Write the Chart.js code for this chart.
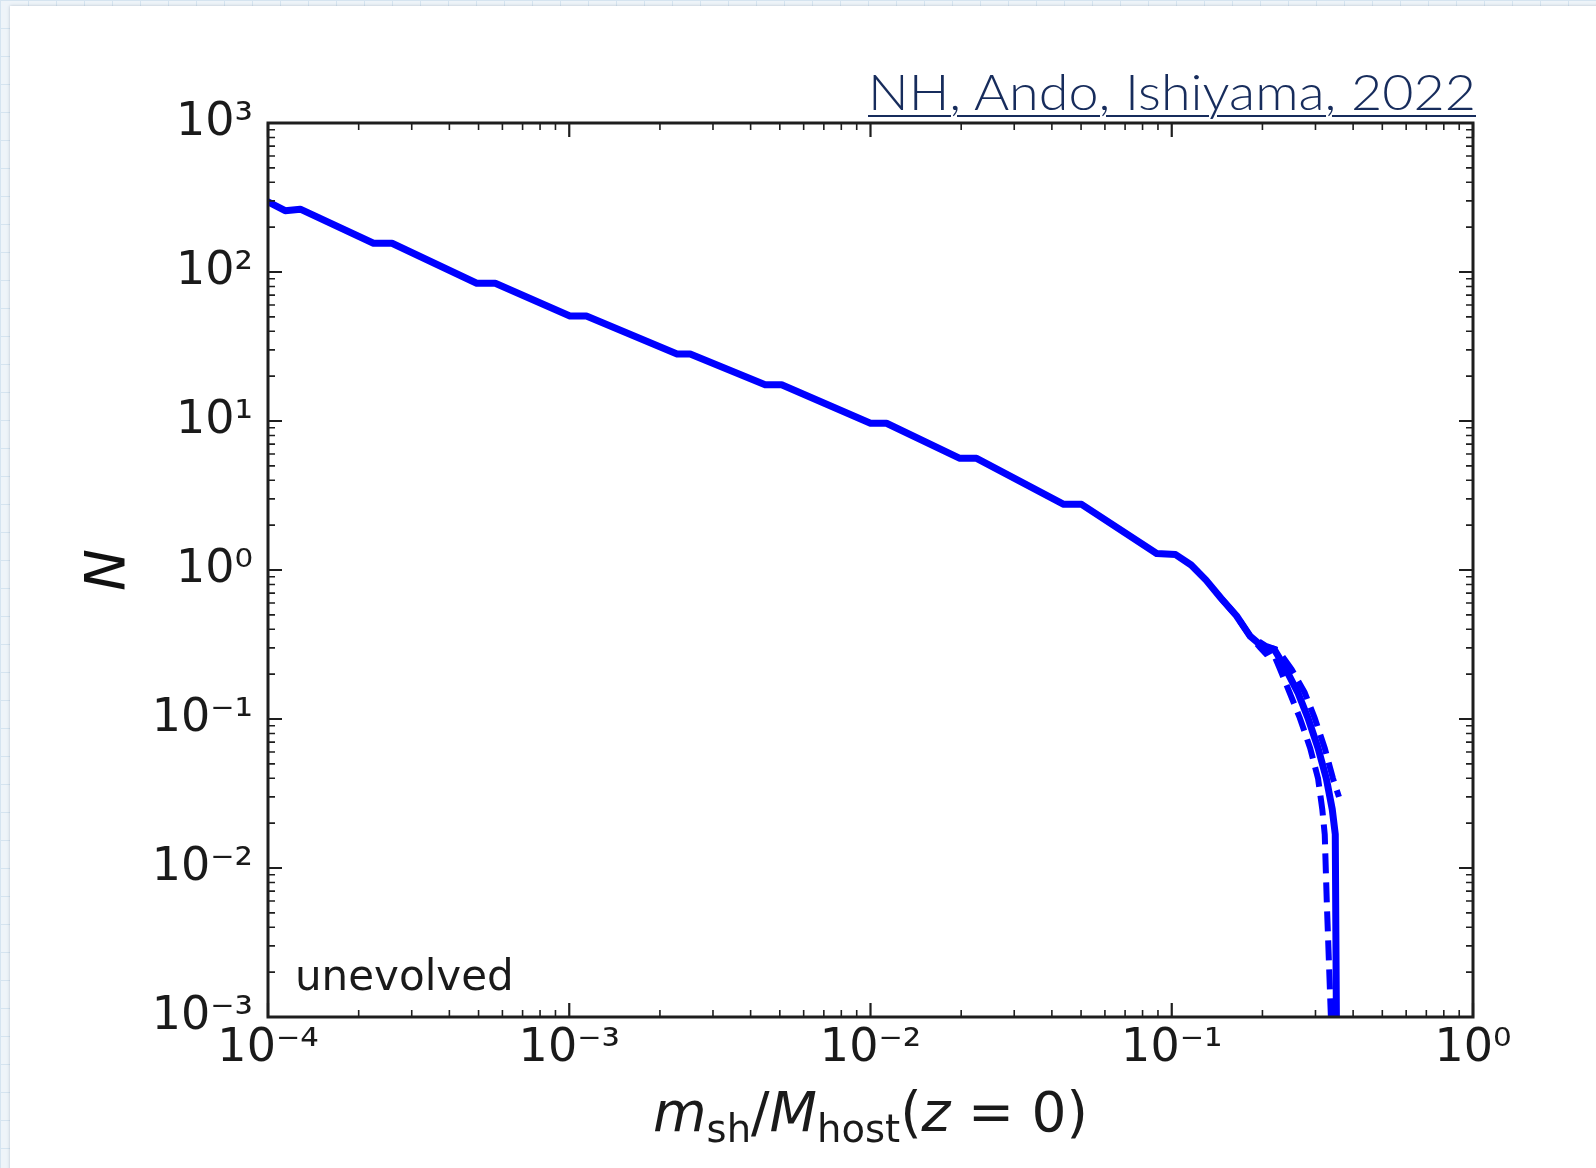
<!DOCTYPE html>
<html>
<head>
<meta charset="utf-8">
<title>Subhalo mass function</title>
<script src="https://cdn.jsdelivr.net/npm/chart.js@4.4.1/dist/chart.umd.min.js"></script>
<style>
  html, body { margin: 0; padding: 0; }
  body {
    width: 1596px; height: 1168px; overflow: hidden; position: relative;
    background-color: #eef4f9;
    background-image:
      linear-gradient(#d5e4f0 1px, transparent 1px),
      linear-gradient(90deg, #d5e4f0 1px, transparent 1px);
    background-size: 28px 28px;
  }
  #card {
    position: absolute; left: 10px; top: 6px; right: -20px; bottom: -20px;
    background: #fff; box-shadow: 0 0 3px rgba(110, 130, 150, 0.45);
  }
  #wrap { position: absolute; left: 0; top: 0; width: 1596px; height: 1168px; }
  #cite {
    position: absolute; left: 868px; top: 66px;
    font-family: Lato, "Open Sans", sans-serif; font-weight: 300;
    font-size: 50px; line-height: 1; white-space: nowrap;
    color: #172c5c; text-decoration: underline;
    text-decoration-thickness: 2px; text-underline-offset: 5px;
    transform-origin: 0 0;
  }
</style>
</head>
<body>
<div id="card"></div>
<div id="wrap"><canvas id="chartCanvas"></canvas></div>
<div id="cite">NH, Ando, Ishiyama, 2022</div>
<script>
// solid line: N(> m_sh/M_host), unevolved
const xSolid = [1e-4, 1.14e-4, 1.28e-4, 2.24e-4, 2.58e-4, 4.93e-4, 5.68e-4, 1.005e-3, 1.14e-3,
  2.28e-3, 2.52e-3, 4.47e-3, 5.07e-3, 1.0e-2, 1.13e-2, 1.98e-2, 2.25e-2, 4.38e-2, 5.02e-2,
  0.0891, 0.103, 0.116, 0.130, 0.146, 0.164, 0.182, 0.1995, 0.219, 0.237, 0.262, 0.283,
  0.306, 0.326, 0.341, 0.349, 0.352];
const nSolid = [296, 258, 264, 156, 156, 84, 84, 50.7, 50.7,
  28.2, 28.2, 17.5, 17.5, 9.66, 9.66, 5.62, 5.62, 2.76, 2.76,
  1.29, 1.27, 1.08, 0.855, 0.644, 0.493, 0.360, 0.307, 0.293, 0.224, 0.151, 0.102,
  0.0638, 0.0398, 0.0248, 0.0168, 0.001];

// dashed lines (only where they split from the solid one)
const xDashA = [0.146, 0.164, 0.182, 0.205, 0.225, 0.25, 0.276, 0.298, 0.322, 0.343, 0.359];
const nDashA = [0.644, 0.493, 0.36, 0.31, 0.29, 0.215, 0.151, 0.102, 0.0638, 0.0398, 0.030];
const xDashB = [0.146, 0.164, 0.182, 0.197, 0.205, 0.215, 0.228, 0.246, 0.266, 0.288, 0.306,
  0.316, 0.322, 0.327, 0.3375];
const nDashB = [0.644, 0.493, 0.36, 0.30, 0.275, 0.29, 0.22, 0.151, 0.102, 0.0638, 0.0398,
  0.0248, 0.0168, 0.006, 0.001];

// tick labels
const xTicks = [1e-4, 1e-3, 1e-2, 1e-1, 1];
const xTickLabels = ['10⁻⁴', '10⁻³', '10⁻²', '10⁻¹', '10⁰'];
const yTicks = [1e-3, 1e-2, 1e-1, 1, 10, 100, 1000];
const yTickLabels = ['10⁻³', '10⁻²', '10⁻¹', '10⁰', '10¹', '10²', '10³'];

const toPoints = (xs, ys) => xs.map((v, i) => ({ x: v, y: ys[i] }));

// inward ticks on all four sides + box, like matplotlib
const frameTicks = {
  id: 'frameTicks',
  afterDatasetsDraw(chart) {
    const { ctx, chartArea: a, scales: { x, y } } = chart;
    ctx.save();
    ctx.strokeStyle = '#1e1e1e';
    const minorOf = majors => {
      const out = [];
      for (let i = 0; i < majors.length - 1; i++)
        for (let k = 2; k <= 9; k++) out.push(majors[i] * k);
      return out;
    };
    const drawX = (vals, len, w) => {
      ctx.lineWidth = w;
      ctx.beginPath();
      vals.forEach(v => {
        const px = x.getPixelForValue(v);
        ctx.moveTo(px, a.bottom); ctx.lineTo(px, a.bottom - len);
        ctx.moveTo(px, a.top); ctx.lineTo(px, a.top + len);
      });
      ctx.stroke();
    };
    const drawY = (vals, len, w) => {
      ctx.lineWidth = w;
      ctx.beginPath();
      vals.forEach(v => {
        const py = y.getPixelForValue(v);
        ctx.moveTo(a.left, py); ctx.lineTo(a.left + len, py);
        ctx.moveTo(a.right, py); ctx.lineTo(a.right - len, py);
      });
      ctx.stroke();
    };
    drawX(minorOf(xTicks), 7, 1.6);
    drawY(minorOf(yTicks), 7, 1.6);
    drawX(xTicks, 14, 2.2);
    drawY(yTicks, 14, 2.2);
    ctx.lineWidth = 3;
    ctx.strokeRect(a.left, a.top, a.right - a.left, a.bottom - a.top);
    ctx.restore();
  },
  afterDraw(chart) {
    const { ctx, chartArea: a } = chart;
    ctx.save();
    ctx.fillStyle = '#1a1a1a';
    ctx.textBaseline = 'alphabetic';
    ctx.font = '42px "DejaVu Sans"';
    ctx.fillText('unevolved', a.left + 27, a.bottom - 27);

    // x axis title: m_sh / M_host (z = 0)
    const fs = 55;
    const parts = [
      ['m', 'italic', fs, 0], ['sh', 'normal', fs * 0.7, fs * 0.2],
      ['/', 'normal', fs, 0], ['M', 'italic', fs, 0], ['host', 'normal', fs * 0.7, fs * 0.2],
      ['(', 'normal', fs, 0], ['z', 'italic', fs, 0], [' = ', 'normal', fs, 0], ['0)', 'normal', fs, 0]
    ];
    let total = 0;
    parts.forEach(p => { ctx.font = p[1] + ' ' + p[2] + 'px "DejaVu Sans"'; total += ctx.measureText(p[0]).width; });
    let cx = (a.left + a.right) / 2 - total / 2;
    const base = 1131;
    parts.forEach(p => {
      ctx.font = p[1] + ' ' + p[2] + 'px "DejaVu Sans"';
      ctx.fillText(p[0], cx, base + p[3]);
      cx += ctx.measureText(p[0]).width;
    });
    ctx.restore();
  }
};

Chart.defaults.font.family = '"DejaVu Sans"';
Chart.defaults.color = '#1a1a1a';

const ctx = document.getElementById('chartCanvas').getContext('2d');
new Chart(ctx, {
  type: 'line',
  data: {
    datasets: [
      {
        label: 'solid',
        data: toPoints(xSolid, nSolid),
        borderColor: '#0000ff',
        borderWidth: 7,
        borderJoinStyle: 'round',
        borderCapStyle: 'round',
        pointRadius: 0,
        tension: 0
      },
      {
        label: 'dashed 1',
        data: toPoints(xDashA, nDashA),
        borderColor: '#0000ff',
        borderWidth: 6,
        borderDash: [20, 9],
        pointRadius: 0,
        tension: 0
      },
      {
        label: 'dashed 2',
        data: toPoints(xDashB, nDashB),
        borderColor: '#0000ff',
        borderWidth: 6,
        borderDash: [20, 9],
        pointRadius: 0,
        tension: 0
      }
    ]
  },
  options: {
    responsive: true,
    maintainAspectRatio: false,
    animation: false,
    layout: { padding: { top: 123, right: 123, left: 0, bottom: 0 } },
    scales: {
      x: {
        type: 'logarithmic',
        min: 1e-4,
        max: 1,
        afterFit: s => { s.height = 151; },
        afterBuildTicks: s => { s.ticks = xTicks.map(v => ({ value: v })); },
        grid: { display: false, drawTicks: false },
        border: { display: false },
        ticks: {
          autoSkip: false,
          maxRotation: 0,
          padding: 4,
          font: { size: 46 },
          color: '#1a1a1a',
          callback: v => xTickLabels[xTicks.indexOf(v)]
        }
      },
      y: {
        type: 'logarithmic',
        min: 1e-3,
        max: 1e3,
        afterFit: s => { s.width = 268; },
        afterBuildTicks: s => { s.ticks = yTicks.map(v => ({ value: v })); },
        grid: { display: false, drawTicks: false },
        border: { display: false },
        ticks: {
          autoSkip: false,
          padding: 15,
          font: { size: 46 },
          color: '#1a1a1a',
          callback: v => yTickLabels[yTicks.indexOf(v)]
        },
        title: {
          display: true,
          text: 'N',
          padding: { top: 76 },
          font: { size: 56, style: 'italic' },
          color: '#111'
        }
      }
    },
    plugins: {
      legend: { display: false },
      tooltip: { enabled: false }
    }
  },
  plugins: [frameTicks]
});

// fit the citation to its width in the slide
const cite = document.getElementById('cite');
const fitCite = () => {
  cite.style.transform = 'none';
  const w = cite.getBoundingClientRect().width;
  cite.style.transform = 'scaleX(' + (608 / w) + ')';
};
fitCite();
if (document.fonts) document.fonts.ready.then(fitCite);
</script>
</body>
</html>
